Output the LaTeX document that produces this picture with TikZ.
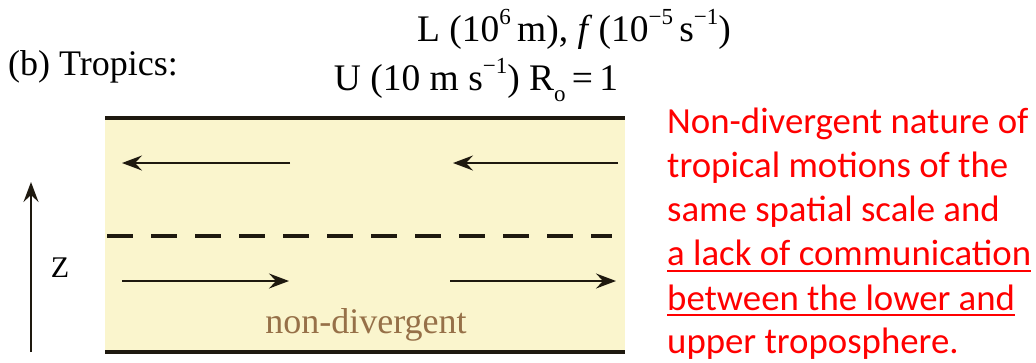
\documentclass[tikz,border=0pt]{standalone}
\usepackage{fontspec}
\setmainfont{Liberation Serif}
\newfontfamily\redfont{Carlito}
\usetikzlibrary{arrows.meta}
\definecolor{boxfill}{RGB}{250,245,205}
\definecolor{ndbrown}{RGB}{150,112,72}
\definecolor{redtxt}{RGB}{255,0,0}
\definecolor{ink}{RGB}{30,25,15}
\newcommand{\supx}[1]{\raisebox{0.45em}{\fontsize{23}{25}\selectfont #1}}
\newcommand{\subx}[1]{\raisebox{-0.3em}{\fontsize{23}{25}\selectfont #1}}
\begin{document}
\begin{tikzpicture}[x=1pt,y=-1pt,
  serif/.style={inner sep=0pt, anchor=base, font=\fontsize{36}{40}\selectfont},
  head/.style={inner sep=0pt, anchor=base, font=\fontsize{37.5}{40}\selectfont},
  redline/.style={inner sep=0pt, anchor=base west, text=redtxt, font=\redfont\fontsize{36.8}{40}\selectfont},
  border/.style={draw=ink, line width=4.5pt},
  flow/.style={draw=ink, line width=2pt, -{Stealth[length=20pt,width=15pt,inset=7pt]}},
  divide/.style={draw=ink, line width=3.3pt, dash pattern=on 26pt off 18pt},
  uline/.style={draw=redtxt, line width=2pt}]
\useasboundingbox (0,0) rectangle (1036,362);
% box
\coordinate (tl) at (105,118);
\coordinate (tr) at (625,118);
\coordinate (bl) at (105,352);
\coordinate (br) at (625,352);
\fill[boxfill] (tl) rectangle (br);
\draw[border] (tl) -- (tr);
\draw[border] (bl) -- (br);
% dashed line
\coordinate (dl) at (107,236);
\coordinate (dr) at (612,236);
\draw[divide] (dl) -- (dr);
% upper arrows (to the left)
\coordinate (u1s) at (290,163); \coordinate (u1e) at (122,163);
\coordinate (u2s) at (618,163); \coordinate (u2e) at (453,163);
\draw[flow] (u1s) -- (u1e);
\draw[flow] (u2s) -- (u2e);
% lower arrows (to the right)
\coordinate (l1s) at (122,281); \coordinate (l1e) at (289,281);
\coordinate (l2s) at (450,281); \coordinate (l2e) at (616,281);
\draw[flow] (l1s) -- (l1e);
\draw[flow] (l2s) -- (l2e);
% z axis
\coordinate (zs) at (31,352); \coordinate (ze) at (31,182);
\draw[flow] (zs) -- (ze);
\node[serif, font=\fontsize{30}{32}\selectfont] (zlab) at (60,277) {Z};
% labels
\node[serif, text=ndbrown] (nd) at (366,333) {non-divergent};
\node[serif, anchor=base west] (title) at (8,75) {(b) Tropics:};
\node[head] (scales1) at (574,41) {L (10\supx{6}\,m), \textit{f}\,(10\supx{−5}\,s\supx{−1})};
\node[head] (scales2) at (476,90) {U (10 m s\supx{−1}) R\subx{o}\,=\,1};
% red text
\node[redline] (r1) at (667,133) {Non-divergent nature of};
\node[redline] (r2) at (667,177) {tropical motions of the};
\node[redline] (r3) at (667,221) {same spatial scale and};
\node[redline] (r4) at (667,265.5) {a lack of communication};
\node[redline] (r5) at (667,310) {between the lower and};
\node[redline] (r6) at (667,353) {upper troposphere.};
\draw[uline] ([yshift=-5pt]r4.base west) -- ([yshift=-5pt]r4.base east);
\draw[uline] ([yshift=-5pt]r5.base west) -- ([yshift=-5pt]r5.base east);
\end{tikzpicture}
\end{document}
